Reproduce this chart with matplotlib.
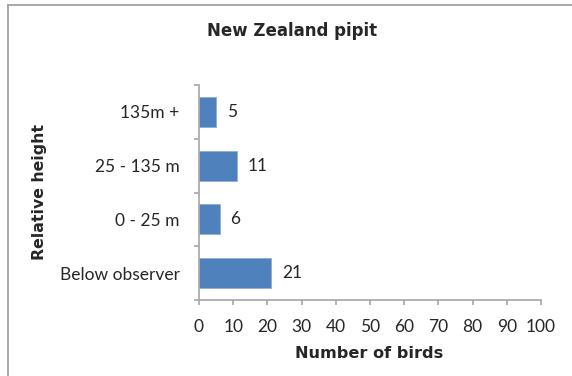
import matplotlib.pyplot as plt
from matplotlib.lines import Line2D

# Observed heights of New Zealand pipits
heights = ['Below observer', '0 - 25 m', '25 - 135 m', '135m +']
counts = [21, 6, 11, 5]
x_ticks = list(range(0, 101, 10))

bar_color = '#4F81BD'
axis_color = '#A6A6A6'
text_color = '#262626'

fig = plt.figure(figsize=(5.72, 3.76), dpi=100)
fig.patch.set_facecolor('white')

# Outer chart border (visible along top and left)
fig.add_artist(Line2D([8 / 572, 8 / 572], [0, 1 - 5 / 376], transform=fig.transFigure,
                      color='#A0A0A0', linewidth=1.3))
fig.add_artist(Line2D([8 / 572, 1], [1 - 5 / 376, 1 - 5 / 376], transform=fig.transFigure,
                      color='#A0A0A0', linewidth=1.3))

ax = fig.add_axes([199 / 572, 1 - 300 / 376, 342 / 572, 215 / 376])

y = range(len(heights))
ax.barh(y, counts, height=0.56, color=bar_color, edgecolor='#8EACD6', linewidth=0.6)

# Value labels next to each bar
for yi, c in zip(y, counts):
    ax.text(c + 3.2, yi, str(c), va='center', ha='left', fontsize=12.5,
            color=text_color, family='Lato')

ax.set_xlim(0, 100)
ax.set_ylim(-0.5, len(heights) - 0.5)
ax.set_xticks(x_ticks)
ax.set_xticklabels([str(t) for t in x_ticks], fontsize=12.5, color=text_color, family='Lato')

# Category ticks sit between bars, labels centred on bars
ax.set_yticks([i - 0.5 for i in range(len(heights) + 1)])
ax.set_yticklabels([])
ax.set_yticks(list(y), minor=True)
ax.set_yticklabels(heights, minor=True, fontsize=12.5, color=text_color, family='Lato')
ax.tick_params(axis='y', which='minor', length=0, pad=14)
ax.tick_params(axis='y', which='major', length=3.6, color=axis_color, width=1.2)
ax.tick_params(axis='x', length=3.6, color=axis_color, width=1.2, pad=10)

for side in ['top', 'right']:
    ax.spines[side].set_visible(False)
for side in ['left', 'bottom']:
    ax.spines[side].set_color(axis_color)
    ax.spines[side].set_linewidth(1.2)

fig.text(292 / 572, 1 - 31 / 376, 'New Zealand pipit', ha='center', va='center',
         fontsize=12, fontweight='bold', color=text_color, family='DejaVu Sans')
fig.text(369 / 572, 1 - 354 / 376, 'Number of birds', ha='center', va='center',
         fontsize=11.6, fontweight='bold', color=text_color, family='DejaVu Sans')
fig.text(40 / 572, 1 - 192 / 376, 'Relative height', ha='center', va='center',
         rotation=90, fontsize=11.3, fontweight='bold', color=text_color, family='DejaVu Sans')

fig.savefig('out.png', dpi=100, facecolor='white')
